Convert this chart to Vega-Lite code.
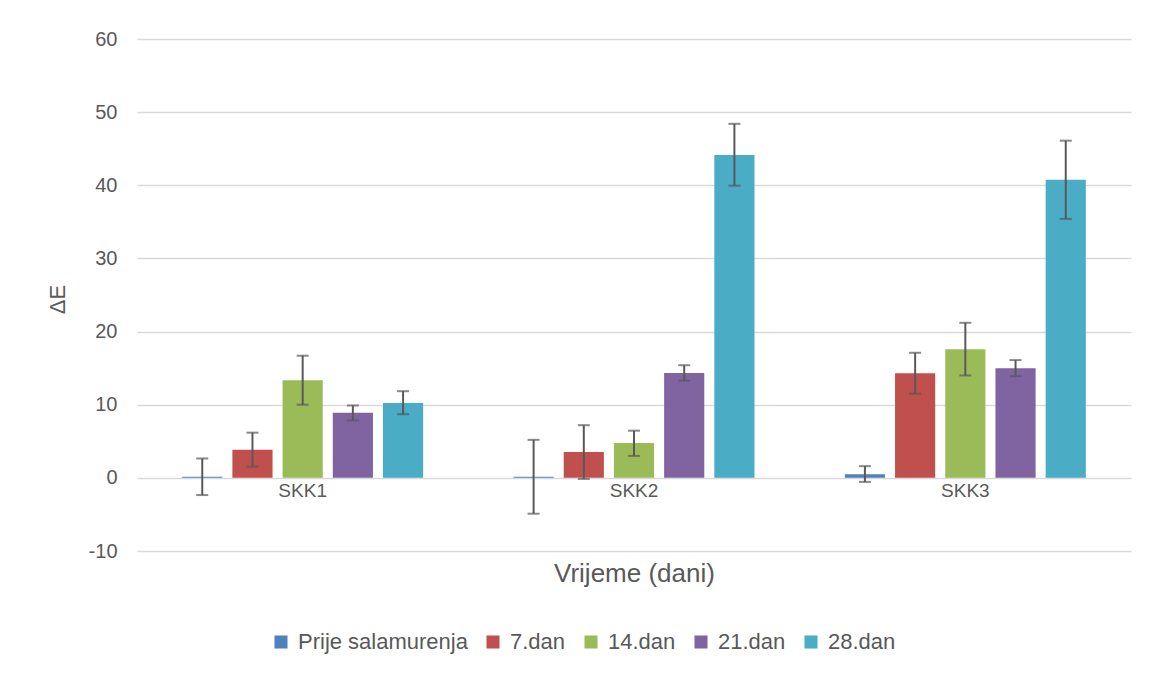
{
  "$schema": "https://vega.github.io/schema/vega-lite/v6.json",
  "width": 994,
  "height": 512,
  "autosize": {"type": "none"},
  "padding": {"left": 137, "top": 39, "right": 23, "bottom": 123},
  "background": "white",
  "config": {
    "font": "Liberation Sans",
    "view": {"stroke": null},
    "axis": {"labelColor": "#595959", "titleColor": "#595959", "labelFont": "Liberation Sans", "titleFont": "Liberation Sans", "titleFontWeight": "normal"},
    "legend": {"labelColor": "#595959", "labelFont": "Liberation Sans"}
  },
  "data": {
    "values": [
      {"group": "SKK1", "series": "Prije salamurenja", "value": 0.15, "lo": -2.35, "hi": 2.65},
      {"group": "SKK1", "series": "7.dan", "value": 3.85, "lo": 1.53, "hi": 6.18},
      {"group": "SKK1", "series": "14.dan", "value": 13.35, "lo": 10.0, "hi": 16.7},
      {"group": "SKK1", "series": "21.dan", "value": 8.9, "lo": 7.85, "hi": 9.9},
      {"group": "SKK1", "series": "28.dan", "value": 10.25, "lo": 8.7, "hi": 11.85},
      {"group": "SKK2", "series": "Prije salamurenja", "value": 0.15, "lo": -4.9, "hi": 5.2},
      {"group": "SKK2", "series": "7.dan", "value": 3.55, "lo": -0.15, "hi": 7.2},
      {"group": "SKK2", "series": "14.dan", "value": 4.75, "lo": 3.0, "hi": 6.45},
      {"group": "SKK2", "series": "21.dan", "value": 14.35, "lo": 13.3, "hi": 15.4},
      {"group": "SKK2", "series": "28.dan", "value": 44.15, "lo": 39.95, "hi": 48.4},
      {"group": "SKK3", "series": "Prije salamurenja", "value": 0.5, "lo": -0.55, "hi": 1.6},
      {"group": "SKK3", "series": "7.dan", "value": 14.3, "lo": 11.5, "hi": 17.1},
      {"group": "SKK3", "series": "14.dan", "value": 17.6, "lo": 14.0, "hi": 21.2},
      {"group": "SKK3", "series": "21.dan", "value": 15.0, "lo": 13.9, "hi": 16.1},
      {"group": "SKK3", "series": "28.dan", "value": 40.75, "lo": 35.4, "hi": 46.1}
    ]
  },
  "encoding": {
    "x": {
      "field": "group", "type": "nominal",
      "scale": {"paddingInner": 0, "paddingOuter": 0},
      "axis": {"labels": false, "ticks": false, "domain": false, "title": "Vrijeme (dani)", "titleFontSize": 26, "titlePadding": 9}
    },
    "xOffset": {
      "field": "series", "type": "nominal",
      "scale": {"domain": ["Prije salamurenja", "7.dan", "14.dan", "21.dan", "28.dan"], "paddingInner": 0.2, "paddingOuter": 0.9}
    }
  },
  "layer": [
    {
      "mark": {"type": "bar"},
      "encoding": {
        "y": {
          "field": "value", "type": "quantitative",
          "scale": {"domain": [-10, 60], "nice": false},
          "axis": {"values": [-10, 0, 10, 20, 30, 40, 50, 60], "labelExpr": "replace(datum.label, '−', '-')", "title": "ΔE", "titleFontSize": 22, "labelFontSize": 20, "labelPadding": 20, "ticks": false, "domain": false, "gridColor": "#D9D9D9", "gridWidth": 1.3, "titleX": -80, "titleY": 260, "titleAngle": -90, "titleAlign": "center", "titleBaseline": "middle"}
        },
        "color": {
          "field": "series", "type": "nominal",
          "scale": {"domain": ["Prije salamurenja", "7.dan", "14.dan", "21.dan", "28.dan"], "range": ["#4F81BD", "#C0504D", "#9BBB59", "#8064A2", "#4BACC6"]},
          "legend": {"title": null, "orient": "none", "direction": "horizontal", "legendX": 133, "legendY": 592, "symbolType": "square", "symbolSize": 170, "symbolStrokeWidth": 0, "labelFontSize": 22, "labelLimit": 0, "labelOffset": 6, "columnPadding": 14, "symbolOpacity": 1}
        }
      }
    },
    {
      "mark": {"type": "rule", "color": "#595959", "strokeWidth": 2},
      "encoding": {
        "y": {"field": "lo", "type": "quantitative"},
        "y2": {"field": "hi"}
      }
    },
    {
      "mark": {"type": "tick", "color": "#595959", "thickness": 2, "size": 12},
      "encoding": {"y": {"field": "lo", "type": "quantitative"}}
    },
    {
      "mark": {"type": "tick", "color": "#595959", "thickness": 2, "size": 12},
      "encoding": {"y": {"field": "hi", "type": "quantitative"}}
    },
    {
      "data": {"values": [{"group": "SKK1"}, {"group": "SKK2"}, {"group": "SKK3"}]},
      "mark": {"type": "text", "baseline": "top", "dy": 4, "fontSize": 19, "color": "#595959"},
      "encoding": {
        "x": {"field": "group", "type": "nominal"},
        "xOffset": null,
        "y": {"datum": 0},
        "text": {"field": "group"}
      }
    }
  ]
}
